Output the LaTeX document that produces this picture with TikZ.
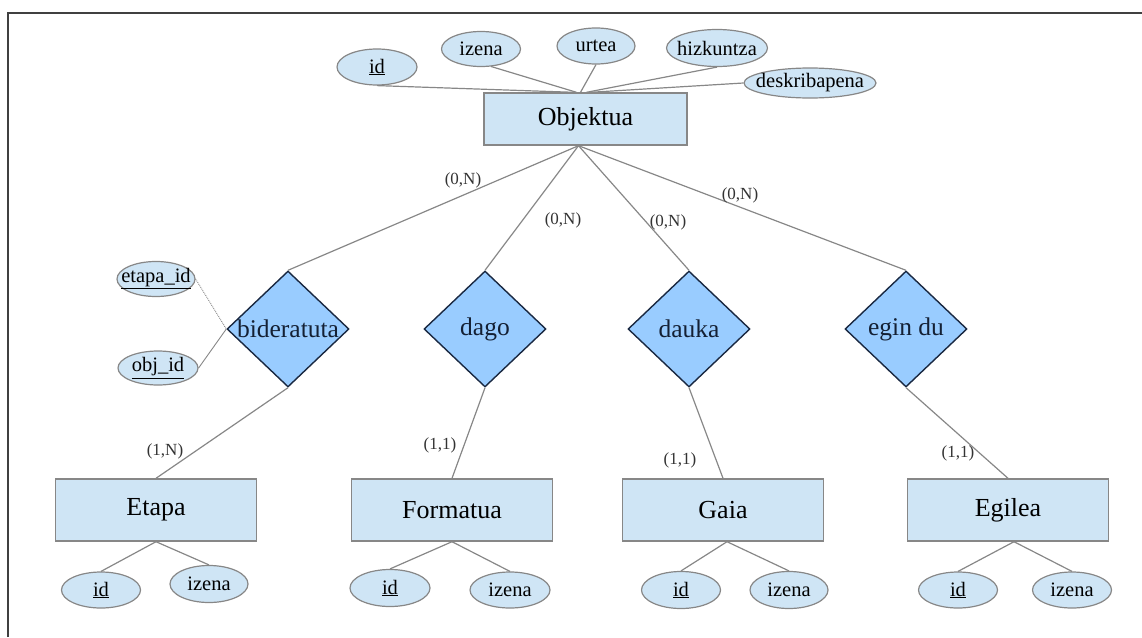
\documentclass[tikz,border=0pt]{standalone}
\usepackage{fontspec}
\setmainfont{Liberation Serif}
\usetikzlibrary{shapes.geometric}

\definecolor{entfill}{RGB}{207,229,245}
\definecolor{relfill}{RGB}{153,204,255}
\definecolor{reldraw}{RGB}{25,40,65}
\definecolor{linegray}{RGB}{135,135,135}

\tikzset{
	entity/.style = {rectangle, draw = linegray, line width = 1.4pt, fill = entfill,
		minimum width = 201pt, minimum height = 62pt, inner sep = 0pt,
		font = \fontsize{26}{30}\selectfont},
	rel/.style = {diamond, draw = reldraw, line width = 1.4pt, fill = relfill,
		minimum width = 122pt, minimum height = 116pt, inner sep = 0pt,
		text = reldraw!80!black, font = \fontsize{25.5}{29}\selectfont},
	attr/.style = {ellipse, draw = linegray, line width = 1.2pt, fill = entfill,
		minimum width = 79pt, minimum height = 35pt, inner sep = 0pt,
		font = \fontsize{20.5}{24}\selectfont},
	card/.style = {inner sep = 0pt, text = black!80, font = \fontsize{17}{20}\selectfont},
	conn/.style = {draw = linegray, line width = 1.2pt}
}

\newcommand{\fit}[1]{\makebox[0pt]{#1}}

\begin{document}
\begin{tikzpicture}[x = 1pt, y = -1pt]
	
	\useasboundingbox (0,0) rectangle (1142,637);
	% frame
	\draw[line width = 1.4pt, black!75] (8,637) -- (8,13) -- (1142,13);
	
	% top entity
	\node[entity, minimum width = 203pt, minimum height = 52pt] (obj) at (585.5,119) {Objektua};
	
	\node[attr, minimum width = 80pt, minimum height = 36pt] (oid) at (377,67) {\fit{\underline{id}}};
	\node[attr] (oizena) at (481,49) {\fit{izena}};
	\node[attr, minimum width = 78pt, minimum height = 36pt] (ourtea) at (596,46) {\fit{urtea}};
	\node[attr, minimum width = 101pt, minimum height = 37pt] (ohizk) at (717,48) {\fit{hizkuntza}};
	\node[attr, minimum width = 132pt, minimum height = 30pt] (odesk) at (810,83) {\fit{deskribapena}};
	
	\draw[conn] (oid.south) -- ([xshift = -12pt]obj.north);
	\draw[conn] (oizena.-60) -- ([xshift = -9pt]obj.north);
	\draw[conn] (ourtea.south) -- ([xshift = -5pt]obj.north);
	\draw[conn] (ohizk.south) -- ([xshift = 1pt]obj.north);
	\draw[conn] (odesk.west) -- ([xshift = 5pt]obj.north);
	
	% relationships
	\node[rel] (bider) at (288,329) {\fit{bideratuta}};
	\node[rel] (dago) at (485,329) {\fit{dago}};
	\node[rel] (dauka) at (689,329) {\fit{dauka}};
	\node[rel] (egin) at (906,329) {\fit{egin du}};
	
	\coordinate (obot) at ([xshift = -7pt]obj.south);
	\draw[conn] (obot) -- (bider.north);
	\draw[conn] (obot) -- (dago.north);
	\draw[conn] (obot) -- (dauka.north);
	\draw[conn] (obot) -- (egin.north);
	
	\node[card] (c1) at (463,180) {(0,N)};
	\node[card] (c2) at (563,220) {(0,N)};
	\node[card] (c3) at (668,222) {(0,N)};
	\node[card] (c4) at (740,195) {(0,N)};
	
	% keys of bideratuta
	\node[attr, minimum width = 78pt] (betapa) at (156,279) {\fit{\underline{etapa\_id}}};
	\node[attr, minimum width = 80pt, minimum height = 34pt] (bobj) at (158,368) {\fit{\underline{obj\_id}}};
	\draw[conn, line width = 0.9pt, densely dotted] (betapa.east) -- (bider.west);
	\draw[conn, line width = 0.9pt] (bobj.east) -- (bider.west);
	
	% bottom entities
	\node[entity] (etapa) at (156,510) {Etapa};
	\node[entity] (form) at (452,510) {Formatua};
	\node[entity] (gaia) at (723,510) {Gaia};
	\node[entity] (egilea) at (1008,510) {Egilea};
	
	\draw[conn] (bider.south) -- (etapa.north);
	\draw[conn] (dago.south) -- (form.north);
	\draw[conn] (dauka.south) -- (gaia.north);
	\draw[conn] (egin.south) -- (egilea.north);
	
	\node[card] (c5) at (165,451) {(1,N)};
	\node[card] (c6) at (440,445) {(1,1)};
	\node[card] (c7) at (680,460) {(1,1)};
	\node[card] (c8) at (958,453) {(1,1)};
	
	% attributes of bottom entities
	\node[attr, minimum height = 36pt] (eid) at (101,590) {\fit{\underline{id}}};
	\node[attr, minimum width = 78pt, minimum height = 37pt] (eizena) at (209,584) {\fit{izena}};
	\node[attr, minimum width = 80pt, minimum height = 37pt] (fid) at (390,588) {\fit{\underline{id}}};
	\node[attr, minimum width = 80pt, minimum height = 36pt] (fizena) at (510,590) {\fit{izena}};
	\node[attr, minimum height = 37pt] (gid) at (681,590) {\fit{\underline{id}}};
	\node[attr, minimum width = 78pt, minimum height = 37pt] (gizena) at (789,590) {\fit{izena}};
	\node[attr, minimum height = 36pt] (aid) at (958,590) {\fit{\underline{id}}};
	\node[attr, minimum height = 36pt] (aizena) at (1072,590) {\fit{izena}};
	
	\draw[conn] (etapa.south) -- (eid.north);
	\draw[conn] (etapa.south) -- (eizena.north);
	\draw[conn] (form.south) -- (fid.north);
	\draw[conn] (form.south) -- (fizena.north);
	\draw[conn] ([xshift = 4pt]gaia.south) -- (gid.north);
	\draw[conn] ([xshift = 4pt]gaia.south) -- (gizena.north);
	\draw[conn] ([xshift = 6pt]egilea.south) -- (aid.north);
	\draw[conn] ([xshift = 6pt]egilea.south) -- (aizena.north);
	
\end{tikzpicture}
\end{document}
